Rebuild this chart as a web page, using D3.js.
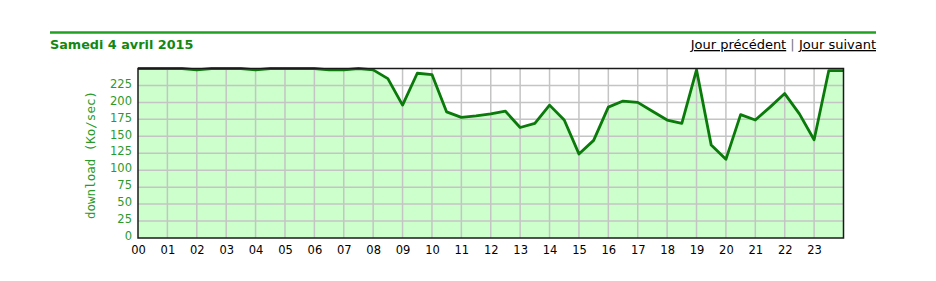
<!DOCTYPE html>
<html><head><meta charset="utf-8">
<script src="https://cdnjs.cloudflare.com/ajax/libs/d3/7.8.5/d3.min.js"></script>
<style>
html,body{margin:0;padding:0;background:#fff;}
svg{display:block;}
</style></head>
<body>
<svg id="c" width="936" height="281"></svg>
<script>
const titleText = "Samedi 4 avril 2015";
const prevText = "Jour précédent";
const nextText = "Jour suivant";
const yTitle = "download (Ko/sec)";
const hourLabels = ["00","01","02","03","04","05","06","07","08","09","10","11","12","13","14","15","16","17","18","19","20","21","22","23"];
const yTicks = [0,25,50,75,100,125,150,175,200,225];
// half-hour samples from 00:00 to 24:00
const hours = d3.range(0, 24.5, 0.5);
const download = [
  250,250,250,250,248,250,250,250,248,250,
  250,250,250,248,248,250,248,235,196,243,
  241,186,178,180,183,187,163,169,196,174,
  124,144,193,202,200,187,174,169,248,137,
  116,182,174,193,213,183,145,247,247
];

const svg = d3.select("#c");
const plot = {l:138, r:843.5, t:68.5, b:238};

// header
svg.append("line").attr("x1",50).attr("x2",876).attr("y1",32.5).attr("y2",32.5)
  .attr("stroke","#22a022").attr("stroke-width",2.5);
svg.append("text").attr("x",50).attr("y",49).text(titleText)
  .attr("font-family","DejaVu Sans, Verdana, sans-serif").attr("font-weight","bold")
  .attr("font-size",12.8).attr("fill","#118811");
const links = svg.append("text").attr("x",876).attr("y",49).attr("text-anchor","end")
  .attr("font-family","DejaVu Sans, Verdana, sans-serif").attr("font-size",13).attr("fill","#000");
links.append("tspan").attr("text-decoration","underline").text(prevText);
links.append("tspan").attr("fill","#777").text(" | ");
links.append("tspan").attr("text-decoration","underline").text(nextText);

const x = d3.scaleLinear().domain([0,24]).range([plot.l, plot.r]);
const y = d3.scaleLinear().domain([0,250]).range([plot.b, plot.t]);

// background
svg.append("rect").attr("x",plot.l).attr("y",plot.t).attr("width",plot.r-plot.l).attr("height",plot.b-plot.t).attr("fill","#fff");
const pts = hours.map((h,i)=>[h, download[i]]);
svg.append("path").datum(pts)
  .attr("d", d3.area().x(d=>x(d[0])).y0(y(0)).y1(d=>y(d[1])))
  .attr("fill","#ccffcc");

// grid
const g = svg.append("g").attr("stroke","#c4c4c4").attr("stroke-width",1.5);
g.selectAll("line.v").data(d3.range(1,24)).join("line")
  .attr("x1",d=>x(d)).attr("x2",d=>x(d)).attr("y1",plot.t).attr("y2",plot.b);
g.selectAll("line.h").data(yTicks.filter(v=>v>0)).join("line")
  .attr("x1",plot.l).attr("x2",plot.r).attr("y1",d=>y(d)).attr("y2",d=>y(d));

// line
svg.append("path").datum(pts)
  .attr("d", d3.line().x(d=>x(d[0])).y(d=>y(d[1])))
  .attr("fill","none").attr("stroke","#0a7a0a").attr("stroke-width",2.8).attr("stroke-linejoin","round");

// frame
svg.append("rect").attr("x",plot.l).attr("y",plot.t).attr("width",plot.r-plot.l).attr("height",plot.b-plot.t)
  .attr("fill","none").attr("stroke","#1a1a1a").attr("stroke-width",1.5);

// axes labels
const xAxis = d3.axisBottom(x).tickValues(d3.range(0,24)).tickFormat((d,i)=>hourLabels[i]).tickSize(0).tickPadding(8);
const xg = svg.append("g").attr("transform",`translate(0,${plot.b})`).call(xAxis);
xg.select(".domain").remove();
xg.selectAll("text").attr("font-family","DejaVu Sans, Verdana, sans-serif").attr("font-size",11.5).attr("fill","#000");

const yAxis = d3.axisLeft(y).tickValues(yTicks).tickSize(0).tickPadding(6);
const yg = svg.append("g").attr("transform",`translate(${plot.l},0)`).call(yAxis);
yg.select(".domain").remove();
yg.selectAll("text").attr("font-family","DejaVu Sans, Verdana, sans-serif").attr("font-size",11.5).attr("fill","#2a9a2a").attr("dy","0.15em");

svg.append("text").attr("transform","translate(95,155) rotate(-90)").attr("text-anchor","middle")
  .attr("font-family","DejaVu Sans Mono, monospace").attr("font-size",12.5).attr("fill","#2a9a2a").text(yTitle);
</script>
</body></html>
